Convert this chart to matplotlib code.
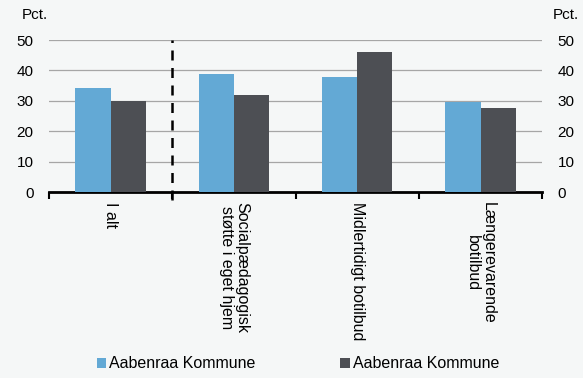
import numpy as np
import matplotlib.pyplot as plt

plt.rcParams['font.family'] = ['Liberation Sans', 'DejaVu Sans']

# data
categories = ['I alt', 'Socialpædagogisk\nstøtte i eget hjem', 'Midlertidigt botilbud',
              'Længerevarende\nbotilbud']
series_names = ['Aabenraa Kommune', 'Aabenraa Kommune']
values_a = [34.3, 38.8, 37.8, 29.5]
values_b = [30.0, 32.0, 46.0, 27.8]
yticks = [0, 10, 20, 30, 40, 50]

bg = '#F5F7F7'
c_blue = '#63A9D5'
c_gray = '#4D4F54'

fig = plt.figure(figsize=(5.83, 3.78), dpi=100, facecolor=bg)
ax = fig.add_axes([0.084, 0.492, 0.846, 0.402], facecolor=bg)

x = np.arange(len(categories))
w = 0.285
ax.bar(x - w/2, values_a, w, color=c_blue, label=series_names[0], zorder=3)
ax.bar(x + w/2, values_b, w, color=c_gray, label=series_names[1], zorder=3)

ax.set_xlim(-0.5, len(categories) - 0.5)
ax.set_ylim(0, 50)
ax.set_yticks(yticks)
ax.grid(axis='y', color='#A6A6A6', linewidth=0.9, zorder=0)

for s in ['top', 'left', 'right']:
    ax.spines[s].set_visible(False)
ax.spines['bottom'].set_linewidth(2)
ax.spines['bottom'].set_color('black')

# y labels on both sides
ax.tick_params(axis='y', length=0, labelsize=11, pad=11, labelleft=True,
               labelright=True, left=False, right=False)

ax.set_xticks(x)
ax.set_xticklabels(categories, rotation=270, fontsize=11.5, ha='center', va='top',
                   multialignment='center', linespacing=1.05)
ax.tick_params(axis='x', which='major', length=0, pad=7)
ax.set_xticks(np.arange(-0.5, len(categories)), minor=True)
ax.tick_params(axis='x', which='minor', length=5, width=1.5, color='black', direction='out')

# dashed divider after 'I alt'
ax.plot([0.5, 0.5], [-2.5, 50], color='black', linestyle=(0, (4, 3)), linewidth=1.8,
        clip_on=False, zorder=4)

fig.text(22 / 583, 1 - 15 / 378, 'Pct.', fontsize=11, va='center', ha='left')
fig.text(553 / 583, 1 - 15 / 378, 'Pct.', fontsize=11, va='center', ha='left')

fig.legend(loc='center', bbox_to_anchor=(298 / 583, 1 - 364 / 378), ncol=2, frameon=False,
           fontsize=11.5, handlelength=0.6, handleheight=0.6, handletextpad=0.2,
           columnspacing=5.3)

fig.savefig('out.png', dpi=100, facecolor=bg)
